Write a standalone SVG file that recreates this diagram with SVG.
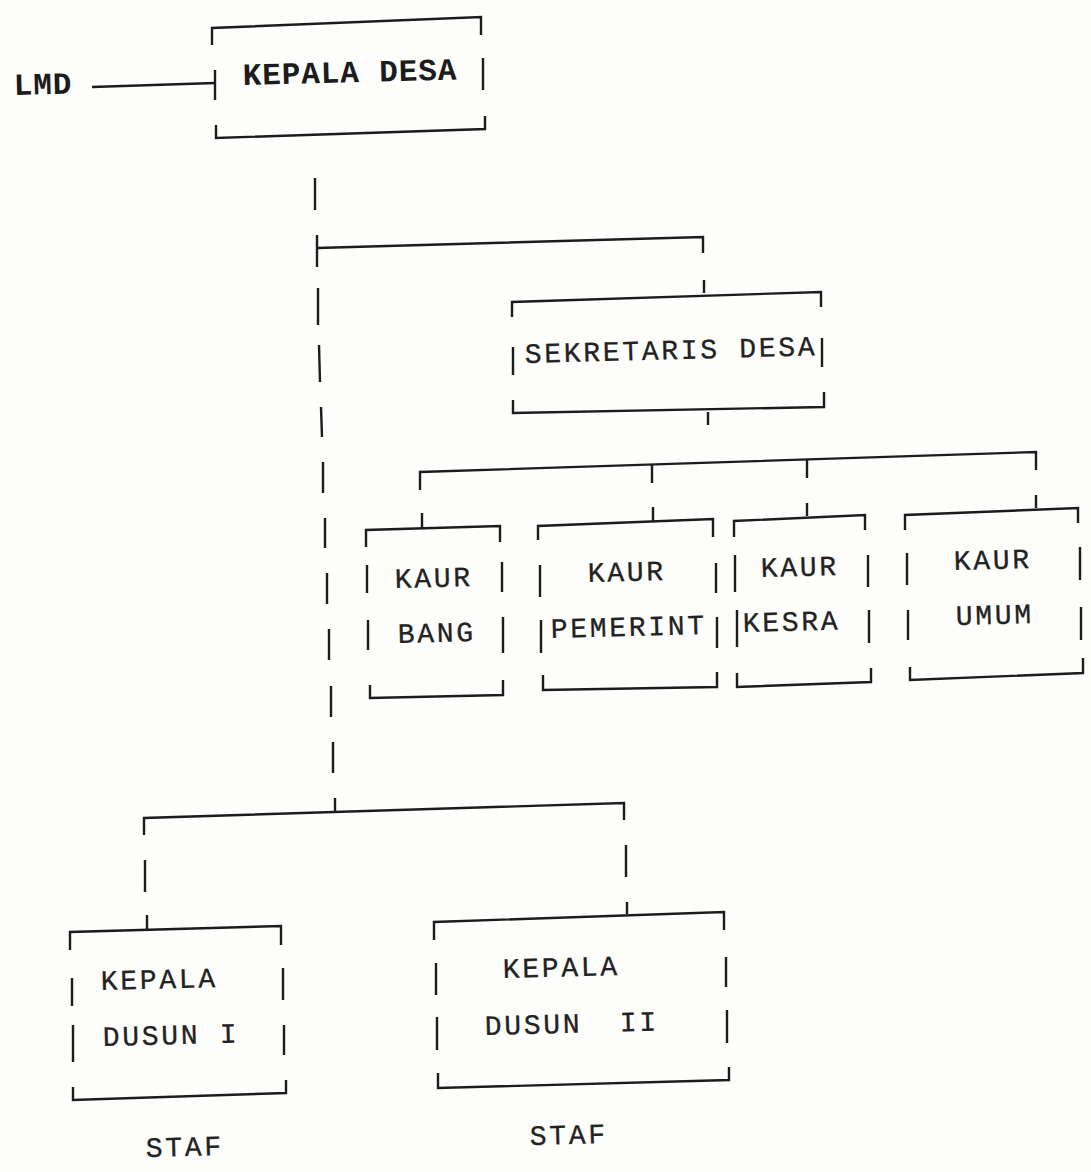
<svg xmlns="http://www.w3.org/2000/svg" width="1091" height="1172" viewBox="0 0 1091 1172">
<style>
.ln{fill:none;stroke:#1c1c1c;stroke-width:2.4;stroke-linecap:butt;stroke-linejoin:miter}
.t{font-family:"Liberation Mono","DejaVu Sans Mono",monospace;font-size:28px;letter-spacing:2.7px;fill:#222;stroke:#222;stroke-width:0.3}
.tb{font-family:"Liberation Mono","DejaVu Sans Mono",monospace;font-size:31px;font-weight:bold;letter-spacing:0.9px;fill:#1c1c1c}
</style>
<rect width="1091" height="1172" fill="#fdfdfc"/>
<g id="connectors" class="ln">
<path d="M92,87 L215,83"/>
<path d="M315,178 L315,210"/>
<path d="M317,235 L317,267"/>
<path d="M317,248 L703,237 L703,253"/>
<path d="M704,280 L704,293"/>
<path d="M318,288 L318,325 M319,345 L320,382 M321,407 L322,437 M323,462 L323,493 M325,518 L325,548 M327,573 L327,604 M329,629 L329,660 M331,686 L331,717 M333,742 L333,773 M335,798 L335,812"/>
<path d="M708,412 L708,425"/>
<path d="M420,490 L420,472 L1036,452 L1036,470"/>
<path d="M652,465 L652,483 M807,460 L807,478"/>
<path d="M422,513 L422,528 M653,507 L653,521 M807,503 L807,516 M1036,495 L1036,508"/>
<path d="M144,835 L144,818 L624,803 L624,820"/>
<path d="M145,860 L145,892 M147,915 L147,930"/>
<path d="M626,845 L626,877 M627,902 L627,914"/>
</g>
<g id="lmd">
<text class="tb" x="14" y="95" transform="rotate(-1.5 14 95)">LMD</text>
</g>
<g id="kepala-desa">
<path class="ln" d="M212,45 L212,28 L481,17 L481,35 M215,70 L215,100 M483,58 L483,90 M216,125 L216,138 L485,129 L485,116"/>
<text class="tb" x="243" y="85" transform="rotate(-1.5 243 85)">KEPALA DESA</text>
</g>
<g id="sekretaris-desa">
<path class="ln" d="M512,317 L512,302 L821,292 L821,307 M513,347 L513,375 M822,338 L822,367 M513,400 L513,413 L824,407 L824,392"/>
<text class="t" x="525" y="363" transform="rotate(-1.5 525 363)">SEKRETARIS DESA</text>
</g>
<g id="kaur-bang">
<path class="ln" d="M366,547 L366,530 L500,526 L500,542 M367,565 L367,593 M368,620 L368,650 M502,562 L502,592 M503,617 L503,653 M370,685 L370,698 L503,695 L503,680"/>
<text class="t" x="395" y="588" transform="rotate(-1.5 395 588)">KAUR</text>
<text class="t" x="398" y="643" transform="rotate(-1.5 398 643)">BANG</text>
</g>
<g id="kaur-pemerint">
<path class="ln" d="M538,540 L538,526 L713,519 L713,537 M540,565 L540,597 M541,620 L541,653 M716,563 L716,593 M717,617 L717,648 M543,675 L543,690 L717,687 L717,672"/>
<text class="t" x="588" y="582" transform="rotate(-1.5 588 582)">KAUR</text>
<text class="t" x="551" y="638" transform="rotate(-1.5 551 638)">PEMERINT</text>
</g>
<g id="kaur-kesra">
<path class="ln" d="M734,537 L734,521 L865,515 L865,530 M735,555 L735,592 M737,610 L737,647 M868,555 L868,587 M869,610 L869,643 M737,673 L737,687 L871,682 L871,668"/>
<text class="t" x="761" y="577" transform="rotate(-1.5 761 577)">KAUR</text>
<text class="t" x="743" y="632" transform="rotate(-1.5 743 632)">KESRA</text>
</g>
<g id="kaur-umum">
<path class="ln" d="M905,530 L905,515 L1078,508 L1078,523 M907,553 L907,585 M908,610 L908,640 M1080,547 L1080,580 M1081,607 L1081,640 M910,667 L910,680 L1083,673 L1083,658"/>
<text class="t" x="954" y="570" transform="rotate(-1.5 954 570)">KAUR</text>
<text class="t" x="956" y="625" transform="rotate(-1.5 956 625)">UMUM</text>
</g>
<g id="kepala-dusun-1">
<path class="ln" d="M70,950 L70,932 L281,926 L281,945 M72,978 L72,1006 M73,1025 L73,1062 M283,968 L283,1000 M284,1025 L284,1055 M73,1087 L73,1100 L286,1093 L286,1080"/>
<text class="t" x="101" y="990" transform="rotate(-1.5 101 990)">KEPALA</text>
<text class="t" x="103" y="1046" transform="rotate(-1.5 103 1046)">DUSUN I</text>
</g>
<g id="kepala-dusun-2">
<path class="ln" d="M434,940 L434,922 L724,912 L724,930 M436,963 L436,995 M437,1017 L437,1050 M726,957 L726,987 M727,1010 L727,1043 M438,1073 L438,1088 L729,1080 L729,1067"/>
<text class="t" x="503" y="978" transform="rotate(-1.5 503 978)">KEPALA</text>
<text class="t" x="485" y="1035" transform="rotate(-1.5 485 1035)">DUSUN <tspan x="620">II</tspan></text>
</g>
<g id="staf-1">
<text class="t" x="146" y="1157" transform="rotate(-1.5 146 1157)">STAF</text>
</g>
<g id="staf-2">
<text class="t" x="530" y="1145" transform="rotate(-1.5 530 1145)">STAF</text>
</g>
</svg>
